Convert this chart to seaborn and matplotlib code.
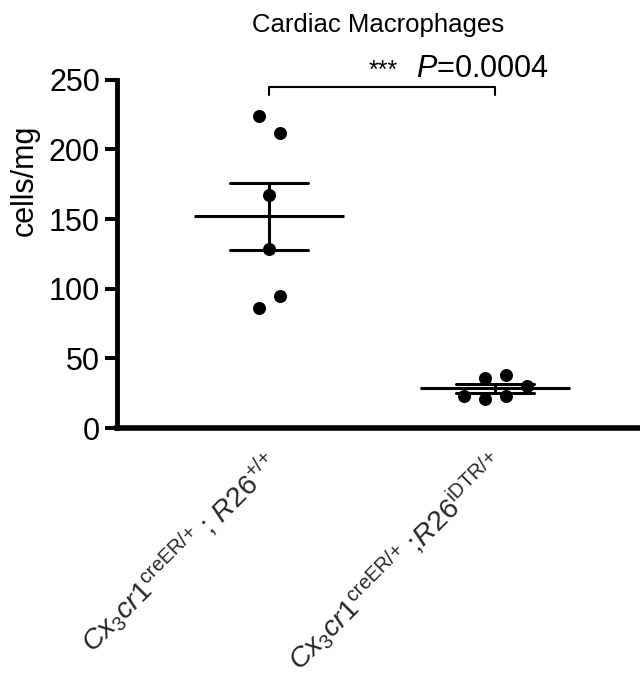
import numpy as np
import pandas as pd
import matplotlib
matplotlib.use("Agg")
import matplotlib.pyplot as plt
import matplotlib.transforms as mtransforms
import seaborn as sns

# --- data -------------------------------------------------------------
groups = ["R26+/+", "R26iDTR/+"]
tick_labels = [
    r"$\mathit{Cx}_{\mathrm{3}}\mathit{cr1}^{\mathrm{creER/{+}}}$ ; $\mathit{R26}^{\mathrm{{+}/{+}}}$",
    r"$\mathit{Cx}_{\mathrm{3}}\mathit{cr1}^{\mathrm{creER/{+}}}$ ;$\mathit{R26}^{\mathrm{iDTR/{+}}}$",
]
control_cells = [224.0, 212.0, 167.3, 128.3, 85.9, 95.0]
idtr_cells = [23.0, 20.6, 23.0, 30.2, 35.7, 38.0]
title = "Cardiac Macrophages"
y_label = "cells/mg"
p_stars = "***"
p_text = r"$\mathit{P}$=0.0004"
y_ticks = [0, 50, 100, 150, 200, 250]

# --- style ------------------------------------------------------------
sns.set_theme(style="ticks")
plt.rcParams["font.family"] = ["Liberation Sans", "DejaVu Sans"]
plt.rcParams.update({
    "mathtext.fontset": "custom",
    "mathtext.rm": "Liberation Sans",
    "mathtext.it": "Liberation Sans:italic",
    "mathtext.bf": "Liberation Sans:bold",
    "mathtext.sf": "Liberation Sans",
})


def row_offsets(values, row_height, step):
    """Spread points sharing a horizontal row symmetrically around the centre."""
    values = np.asarray(values, dtype=float)
    order = np.argsort(values, kind="stable")
    rows, row = [], [order[0]]
    for i in order[1:]:
        if values[i] - values[row[0]] < row_height:
            row.append(i)
        else:
            rows.append(row)
            row = [i]
    rows.append(row)
    offsets = np.zeros(len(values))
    for r in rows:
        r = sorted(r)
        n = len(r)
        for k, i in enumerate(r):
            offsets[i] = (k - (n - 1) / 2) * step
    return offsets


series = [control_cells, idtr_cells]
df = pd.DataFrame({
    "idx": np.concatenate([[i] * len(v) for i, v in enumerate(series)]),
    "cells": np.concatenate(series),
})
df["xpos"] = df["idx"] + np.concatenate(
    [row_offsets(v, row_height=12.5, step=0.093) for v in series])

fig = plt.figure(figsize=(6.4, 6.81), dpi=100)
ax = fig.add_axes([0.1828, 0.3715, 0.8172, 0.5114])

# SEM error bars
sns.pointplot(data=df, x="idx", y="cells", native_scale=True, errorbar="se",
              capsize=0.346, color="black", linestyle="none", marker="none",
              err_kws={"linewidth": 2.2}, ax=ax)

# mean lines
means = df.groupby("idx")["cells"].mean()
ax.hlines(means.values, means.index - 0.332, means.index + 0.332,
          color="black", linewidth=2.2, zorder=2)

# individual animals
sns.scatterplot(data=df, x="xpos", y="cells", color="black", s=88,
                linewidth=0, legend=False, zorder=3, ax=ax)

# axes
ax.set_xlim(-0.675, 1.642)
ax.set_ylim(0, 250)
ax.set_yticks(y_ticks)
ax.set_xticks(range(len(groups)))
ax.set_xticklabels(tick_labels, rotation=45, ha="right", va="center",
                   rotation_mode="anchor", fontsize=20.5)
ax.tick_params(axis="x", length=0, pad=22)
ax.tick_params(axis="y", length=8.6, width=2.9, labelsize=22, pad=3.6,
               color="black", labelcolor="black")
offset = mtransforms.ScaledTranslation(3 / 72, 0, fig.dpi_scale_trans)
for lab in ax.get_xticklabels():
    lab.set_transform(lab.get_transform() + offset)

sns.despine(ax=ax)
ax.spines["left"].set_linewidth(3.5)
ax.spines["bottom"].set_linewidth(4.0)
ax.spines["left"].set_color("black")
ax.spines["bottom"].set_color("black")
ax.set_xlabel("")
ax.set_ylabel(y_label, fontsize=22, color="black")
ax.yaxis.set_label_coords(-0.176, 0.712)
ax.yaxis.label.set_va("center")

ax.set_title(title, fontsize=18.5, pad=34.4, color="black")

# significance bracket
ax.plot([0, 0, 1, 1], [239.1, 245, 245, 239.1], color="black",
        linewidth=1.5, clip_on=False)
ax.text(0.570, 251.0, p_stars, ha="right", va="baseline", fontsize=18,
        color="black")
ax.text(0.650, 252.2, p_text, ha="left", va="baseline", fontsize=22,
        color="black")

fig.savefig("out.png", dpi=100, facecolor="white")
